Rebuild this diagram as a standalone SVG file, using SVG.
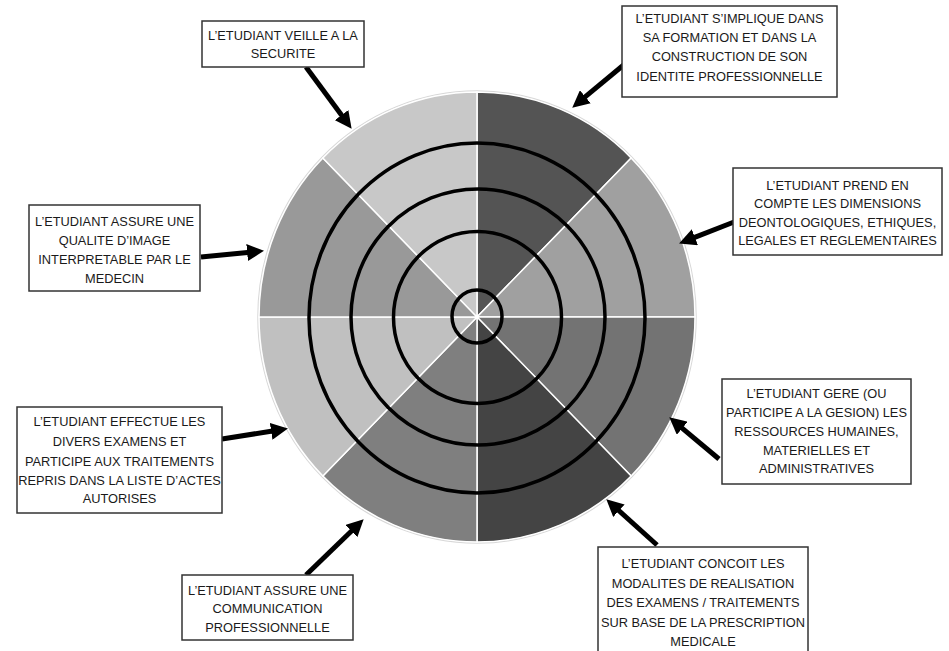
<svg xmlns="http://www.w3.org/2000/svg" width="949" height="651" viewBox="0 0 949 651">
<style>
.bg{fill:#fff}
.w{stroke:#fff;stroke-width:1.5;stroke-linejoin:round}
.ring{fill:none;stroke:#000;stroke-width:3.5}
.box{fill:#fff;stroke:#333;stroke-width:1.5}
.t{font-family:"Liberation Sans",Arial,sans-serif;font-size:12.8px;fill:#1a1a1a;text-anchor:middle}
.arr{stroke:#000;stroke-width:5;fill:none;marker-end:url(#ah)}
</style>
<defs>
<marker id="ah" markerUnits="strokeWidth" markerWidth="3.4" markerHeight="3.4" refX="0.6" refY="1.7" orient="auto" viewBox="0 0 3.4 3.4">
<path d="M0,0 L3.4,1.7 L0,3.4 z" fill="#000"/>
</marker>
</defs>
<rect class="bg" x="0" y="0" width="949" height="651"/>
<g id="wheel">
<ellipse cx="477" cy="317" rx="219" ry="226" fill="none" stroke="#d8d8d8" stroke-width="1.5"/>
<path class="w" fill="#545454" d="M477,317 L477,92 A218,225 0 0 1 631.15,157.9 Z"/>
<path class="w" fill="#a0a0a0" d="M477,317 L631.15,157.9 A218,225 0 0 1 695,317 Z"/>
<path class="w" fill="#737373" d="M477,317 L695,317 A218,225 0 0 1 631.15,476.1 Z"/>
<path class="w" fill="#444444" d="M477,317 L631.15,476.1 A218,225 0 0 1 477,542 Z"/>
<path class="w" fill="#7f7f7f" d="M477,317 L477,542 A218,225 0 0 1 322.85,476.1 Z"/>
<path class="w" fill="#c0c0c0" d="M477,317 L322.85,476.1 A218,225 0 0 1 259,317 Z"/>
<path class="w" fill="#999999" d="M477,317 L259,317 A218,225 0 0 1 322.85,157.9 Z"/>
<path class="w" fill="#c8c8c8" d="M477,317 L322.85,157.9 A218,225 0 0 1 477,92 Z"/>
<ellipse class="ring" cx="477" cy="318" rx="168" ry="175"/>
<ellipse class="ring" cx="478" cy="317" rx="127" ry="128"/>
<ellipse class="ring" cx="477.5" cy="317.5" rx="84" ry="86"/>
<ellipse class="ring" cx="477" cy="316.5" rx="25" ry="26.5"/>
</g>
<g id="connectors">
<line class="arr" x1="306" y1="67" x2="343.3" y2="117.5"/>
<line class="arr" x1="626" y1="63" x2="583" y2="98.7"/>
<line class="arr" x1="734" y1="222" x2="692.1" y2="238.3"/>
<line class="arr" x1="201" y1="257" x2="250.1" y2="252.2"/>
<line class="arr" x1="222" y1="439" x2="274.1" y2="430.8"/>
<line class="arr" x1="719" y1="459" x2="680" y2="426.3"/>
<line class="arr" x1="306" y1="575" x2="353.6" y2="529"/>
<line class="arr" x1="657" y1="545" x2="616.7" y2="508.7"/>
</g>
<g id="n1">
<rect class="box" x="202" y="21" width="162" height="46"/>
<text class="t" x="283" y="39.5">L’ETUDIANT VEILLE A LA</text>
<text class="t" x="283" y="57.5">SECURITE</text>
</g>
<g id="n2">
<rect class="box" x="622" y="6" width="215" height="91"/>
<text class="t" x="729.5" y="23">L’ETUDIANT S’IMPLIQUE DANS</text>
<text class="t" x="729.5" y="42">SA FORMATION ET DANS LA</text>
<text class="t" x="729.5" y="61.3">CONSTRUCTION DE SON</text>
<text class="t" x="729.5" y="80.5">IDENTITE PROFESSIONNELLE</text>
</g>
<g id="n3">
<rect class="box" x="733" y="168" width="209" height="87"/>
<text class="t" x="837.5" y="189.5">L’ETUDIANT PREND EN</text>
<text class="t" x="837.5" y="208">COMPTE LES DIMENSIONS</text>
<text class="t" x="837.5" y="226.5">DEONTOLOGIQUES, ETHIQUES,</text>
<text class="t" x="837.5" y="244.5">LEGALES ET REGLEMENTAIRES</text>
</g>
<g id="n4">
<rect class="box" x="29" y="205" width="171" height="86"/>
<text class="t" x="114.5" y="226">L’ETUDIANT ASSURE UNE</text>
<text class="t" x="114.5" y="245">QUALITE D’IMAGE</text>
<text class="t" x="114.5" y="264">INTERPRETABLE PAR LE</text>
<text class="t" x="114.5" y="283">MEDECIN</text>
</g>
<g id="n5">
<rect class="box" x="17" y="407" width="205" height="106"/>
<text class="t" x="119.5" y="426">L’ETUDIANT EFFECTUE LES</text>
<text class="t" x="119.5" y="446">DIVERS EXAMENS ET</text>
<text class="t" x="119.5" y="465.5">PARTICIPE AUX TRAITEMENTS</text>
<text class="t" x="119.5" y="484.5">REPRIS DANS LA LISTE D’ACTES</text>
<text class="t" x="119.5" y="503">AUTORISES</text>
</g>
<g id="n6">
<rect class="box" x="722" y="379" width="189" height="105"/>
<text class="t" x="816.5" y="397.5">L’ETUDIANT GERE (OU</text>
<text class="t" x="816.5" y="416.5">PARTICIPE A LA GESION) LES</text>
<text class="t" x="816.5" y="435.5">RESSOURCES HUMAINES,</text>
<text class="t" x="816.5" y="454.5">MATERIELLES ET</text>
<text class="t" x="816.5" y="473">ADMINISTRATIVES</text>
</g>
<g id="n7">
<rect class="box" x="182" y="575" width="171" height="65"/>
<text class="t" x="267.5" y="594.5">L’ETUDIANT ASSURE UNE</text>
<text class="t" x="267.5" y="613">COMMUNICATION</text>
<text class="t" x="267.5" y="631.5">PROFESSIONNELLE</text>
</g>
<g id="n8">
<rect class="box" x="598" y="547" width="210" height="115"/>
<text class="t" x="703" y="567.5">L’ETUDIANT CONCOIT LES</text>
<text class="t" x="703" y="587.5">MODALITES DE REALISATION</text>
<text class="t" x="703" y="607">DES EXAMENS / TRAITEMENTS</text>
<text class="t" x="703" y="626.5">SUR BASE DE LA PRESCRIPTION</text>
<text class="t" x="703" y="646">MEDICALE</text>
</g>
</svg>
